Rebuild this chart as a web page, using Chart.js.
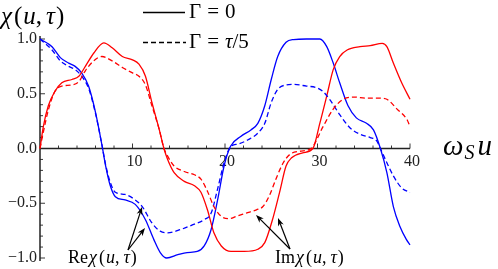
<!DOCTYPE html>
<html>
<head>
<meta charset="utf-8">
<script src="https://cdn.jsdelivr.net/npm/chart.js@4/dist/chart.umd.min.js"></script>
<style>
  html, body { margin: 0; padding: 0; background: #fff; }
  canvas { display: block; }
</style>
</head>
<body>
<canvas id="chart" width="498" height="269"></canvas>
<script>
// chi(u, tau) vs omega_S u, Gamma = 0 (solid) and Gamma = tau/5 (dashed)

// Re chi, Gamma = 0
const reU0 = [0, 1.3, 2.2, 3.1, 3.8, 4.5, 5.25, 6.0, 6.7, 7.1, 7.6, 8.15, 9.2, 10.3, 11.4, 12.3, 13.0, 13.7, 14.9, 15.9, 17.0, 17.75, 18.5, 19.2, 19.9, 20.6, 21.7, 22.8, 23.55, 24.3, 25.0, 25.7, 26.6, 27.4, 28.8, 30.25, 31.0, 31.7, 32.4, 33.3, 34.2, 35.3, 36.05, 36.8, 37.5, 38.2, 38.9, 39.6, 40];
const reV0 = [1.0, 0.93, 0.83, 0.78, 0.75, 0.69, 0.57, 0.33, 0.03, -0.16, -0.34, -0.44, -0.47, -0.51, -0.65, -0.83, -0.95, -1.0, -0.97, -0.95, -0.94, -0.89, -0.74, -0.47, -0.16, 0.02, 0.11, 0.17, 0.23, 0.39, 0.63, 0.84, 0.97, 0.995, 1.0, 1.0, 0.93, 0.78, 0.6, 0.39, 0.28, 0.23, 0.17, 0.0, -0.22, -0.53, -0.71, -0.83, -0.88];

// Re chi, Gamma = tau/5
const reU5 = [0, 1.3, 2.2, 3.1, 3.8, 4.5, 5.25, 6.0, 6.7, 7.1, 7.6, 8.15, 9.2, 10.3, 11.05, 12.1, 13.0, 13.8, 15.2, 16.7, 17.75, 18.5, 19.2, 19.9, 20.65, 21.4, 22.5, 23.55, 24.3, 25.0, 25.7, 26.6, 27.4, 28.8, 29.9, 30.6, 31.3, 32.4, 33.5, 34.6, 35.7, 36.4, 36.8, 37.5, 38.2, 39.1, 40];
const reV5 = [1.0, 0.9, 0.8, 0.75, 0.72, 0.66, 0.55, 0.32, 0.03, -0.15, -0.31, -0.40, -0.42, -0.47, -0.53, -0.68, -0.755, -0.77, -0.74, -0.69, -0.65, -0.59, -0.37, -0.13, 0.02, 0.04, 0.08, 0.14, 0.23, 0.42, 0.54, 0.58, 0.585, 0.57, 0.555, 0.52, 0.45, 0.31, 0.19, 0.13, 0.10, 0.07, 0.0, -0.13, -0.25, -0.36, -0.40];

// Im chi, Gamma = 0
const imU0 = [0, 0.36, 0.9, 1.6, 2.36, 3.45, 4.2, 4.9, 5.8, 6.9, 7.8, 8.9, 10.0, 10.7, 11.4, 12.1, 12.9, 13.4, 13.8, 14.5, 15.6, 16.7, 17.4, 18.1, 18.8, 19.6, 20.65, 22.1, 23.55, 24.3, 25.1, 25.9, 26.6, 27.2, 28.4, 29.5, 30.25, 31.0, 31.7, 32.4, 33.2, 34.6, 35.7, 37.0, 37.5, 38.2, 39.1, 40];
const imV0 = [0, 0.2, 0.39, 0.52, 0.6, 0.63, 0.66, 0.75, 0.87, 0.965, 0.92, 0.84, 0.81, 0.77, 0.66, 0.42, 0.17, 0.0, -0.1, -0.22, -0.30, -0.34, -0.40, -0.56, -0.77, -0.89, -0.94, -0.94, -0.92, -0.86, -0.66, -0.40, -0.16, -0.085, -0.04, 0.0, 0.23, 0.48, 0.72, 0.84, 0.9, 0.93, 0.94, 0.96, 0.93, 0.78, 0.6, 0.45];

// Im chi, Gamma = tau/5
const imU5 = [0, 0.36, 0.9, 1.6, 2.36, 3.45, 4.2, 4.9, 5.8, 6.7, 7.8, 8.9, 10.0, 10.7, 11.4, 12.1, 12.9, 13.4, 13.8, 14.5, 15.6, 16.7, 17.4, 18.1, 18.8, 19.6, 20.5, 21.2, 22.3, 23.4, 24.1, 24.8, 25.5, 26.3, 27.0, 28.1, 29.3, 30.6, 31.7, 32.8, 33.9, 35.3, 36.8, 37.5, 38.6, 39.7, 40];
const imV5 = [0, 0.15, 0.35, 0.52, 0.57, 0.58, 0.61, 0.71, 0.80, 0.84, 0.80, 0.74, 0.69, 0.66, 0.58, 0.39, 0.17, 0.0, -0.07, -0.16, -0.21, -0.24, -0.28, -0.39, -0.53, -0.62, -0.64, -0.62, -0.59, -0.56, -0.53, -0.43, -0.28, -0.13, -0.055, -0.025, 0.0, 0.2, 0.36, 0.45, 0.47, 0.46, 0.46, 0.45, 0.36, 0.26, 0.2];

const xTicks = [10, 20, 30, 40];
const yTicks = [-1.0, -0.5, 0.0, 0.5, 1.0];

const SERIF = '"Liberation Serif", "Times New Roman", Times, serif';

function pts(us, vs) {
  return us.map((u, i) => ({ x: u, y: vs[i] }));
}

function series(us, vs, color, dashed) {
  return {
    data: pts(us, vs),
    borderColor: color,
    borderWidth: 1.3,
    borderDash: dashed ? [5, 3] : [],
    pointRadius: 0,
    cubicInterpolationMode: 'monotone',
    clip: false,
  };
}

// draw a row of text pieces, some italic, some upright
function drawRuns(ctx, x, y, parts) {
  for (const p of parts) {
    ctx.font = (p.i ? 'italic ' : 'normal ') + p.s + 'px ' + SERIF;
    ctx.fillText(p.t, x + (p.dx || 0), y + (p.dy || 0));
    x += (p.dx || 0) + ctx.measureText(p.t).width;
  }
  return x;
}

function arrow(ctx, x0, y0, x1, y1) {
  const a = Math.atan2(y1 - y0, x1 - x0);
  const L = 8, W = 3;
  ctx.beginPath();
  ctx.moveTo(x0, y0);
  ctx.lineTo(x1 - Math.cos(a) * L * 0.6, y1 - Math.sin(a) * L * 0.6);
  ctx.stroke();
  ctx.beginPath();
  ctx.moveTo(x1, y1);
  ctx.lineTo(x1 - Math.cos(a) * L - Math.sin(a) * W, y1 - Math.sin(a) * L + Math.cos(a) * W);
  ctx.lineTo(x1 - Math.cos(a) * L * 0.7, y1 - Math.sin(a) * L * 0.7);
  ctx.lineTo(x1 - Math.cos(a) * L + Math.sin(a) * W, y1 - Math.sin(a) * L - Math.cos(a) * W);
  ctx.closePath();
  ctx.fill();
}

function chiLabel(prefix) {
  return [
    { t: prefix, s: 18 },
    { t: '\u03c7', i: true, s: 18, dx: 1 },
    { t: '(', s: 18, dx: 2 },
    { t: 'u', i: true, s: 18, dx: 1 },
    { t: ',', s: 18 },
    { t: '\u03c4', i: true, s: 18, dx: 4 },
    { t: ')', s: 18, dx: 1 },
  ];
}

const axesPlugin = {
  id: 'axes',
  beforeDatasetsDraw(chart) {
    const ctx = chart.ctx;
    const xs = chart.scales.x, ys = chart.scales.y;
    const x0 = xs.getPixelForValue(0), y0 = ys.getPixelForValue(0);
    ctx.save();
    ctx.strokeStyle = '#222';
    ctx.fillStyle = '#222';
    ctx.lineWidth = 1.5;
    // y axis
    ctx.beginPath();
    ctx.moveTo(x0, ys.getPixelForValue(1) - 3);
    ctx.lineTo(x0, ys.getPixelForValue(-1) + 3);
    ctx.stroke();
    // x axis
    ctx.beginPath();
    ctx.moveTo(x0, y0);
    ctx.lineTo(xs.getPixelForValue(40), y0);
    ctx.stroke();
    ctx.lineWidth = 0.9;
    for (let k = 2; k <= 40; k += 2) {
      const px = xs.getPixelForValue(k);
      const len = k % 10 === 0 ? 5 : 3;
      ctx.beginPath();
      ctx.moveTo(px, y0);
      ctx.lineTo(px, y0 - len);
      ctx.stroke();
    }
    for (let k = -10; k <= 10; k++) {
      const py = ys.getPixelForValue(k / 10);
      const len = k % 5 === 0 ? 5 : 3;
      ctx.beginPath();
      ctx.moveTo(x0, py);
      ctx.lineTo(x0 + len, py);
      ctx.stroke();
    }
    // tick labels
    ctx.font = 'normal 16px ' + SERIF;
    ctx.textAlign = 'center';
    ctx.textBaseline = 'alphabetic';
    for (const t of xTicks) {
      ctx.fillText(String(t), xs.getPixelForValue(t) + 2, y0 + 17);
    }
    ctx.textAlign = 'right';
    ctx.textBaseline = 'middle';
    for (const t of yTicks) {
      const s = (t < 0 ? '\u2212' : '') + Math.abs(t).toFixed(1);
      ctx.fillText(s, x0 - 3, ys.getPixelForValue(t));
    }
    ctx.restore();
  },
  afterDraw(chart) {
    const ctx = chart.ctx;
    ctx.save();
    ctx.fillStyle = '#000';
    ctx.strokeStyle = '#000';
    ctx.textAlign = 'left';
    ctx.textBaseline = 'alphabetic';

    // y axis title
    drawRuns(ctx, 1, 24, [
      { t: '\u03c7', i: true, s: 25 },
      { t: '(', s: 25, dx: 2 },
      { t: 'u', i: true, s: 25, dx: 1 },
      { t: ',', s: 25 },
      { t: '\u03c4', i: true, s: 25, dx: 4 },
      { t: ')', s: 25, dx: 1 },
    ]);

    // x axis title
    drawRuns(ctx, 443, 155, [
      { t: '\u03c9', i: true, s: 29 },
      { t: 'S', i: true, s: 20, dy: 4, dx: 1 },
      { t: 'u', i: true, s: 29, dx: 3 },
    ]);

    // legend
    ctx.lineWidth = 1.5;
    ctx.beginPath();
    ctx.moveTo(143, 12.5);
    ctx.lineTo(185, 12.5);
    ctx.stroke();
    ctx.setLineDash([5, 3]);
    ctx.beginPath();
    ctx.moveTo(143, 42.5);
    ctx.lineTo(186, 42.5);
    ctx.stroke();
    ctx.setLineDash([]);
    drawRuns(ctx, 189, 18, [
      { t: '\u0393', s: 21 },
      { t: '=', s: 21, dx: 6 },
      { t: '0', s: 21, dx: 6 },
    ]);
    drawRuns(ctx, 189, 48, [
      { t: '\u0393', s: 21 },
      { t: '=', s: 21, dx: 6 },
      { t: '\u03c4', i: true, s: 21, dx: 6 },
      { t: '/5', s: 21 },
    ]);

    // annotations
    ctx.lineWidth = 1.2;
    arrow(ctx, 128, 250, 142, 207);
    arrow(ctx, 128, 250, 145, 228);
    arrow(ctx, 290, 249, 256, 215);
    arrow(ctx, 290, 249, 278, 218);
    drawRuns(ctx, 68, 263, chiLabel('Re'));
    drawRuns(ctx, 275, 263, chiLabel('Im'));
    ctx.restore();
  },
};

function build() {
  const ctx = document.getElementById('chart').getContext('2d');
  new Chart(ctx, {
    type: 'line',
    data: {
      datasets: [
        series(imU5, imV5, '#ff0000', true),
        series(reU5, reV5, '#0000ff', true),
        series(imU0, imV0, '#ff0000', false),
        series(reU0, reV0, '#0000ff', false),
      ],
    },
    options: {
      responsive: false,
      animation: false,
      layout: { padding: { left: 40, right: 88, top: 39, bottom: 11 } },
      scales: {
        x: { type: 'linear', min: 0, max: 40, display: false },
        y: { type: 'linear', min: -1, max: 1, display: false },
      },
      plugins: {
        legend: { display: false },
        tooltip: { enabled: false },
      },
    },
    plugins: [axesPlugin],
  });
}

// make sure the serif face is ready before the canvas draws text
Promise.all([
  document.fonts.load('16px "Liberation Serif"', 'χΓ0'),
  document.fonts.load('italic 16px "Liberation Serif"', 'χτω'),
]).catch(() => {}).then(build);
</script>
</body>
</html>
